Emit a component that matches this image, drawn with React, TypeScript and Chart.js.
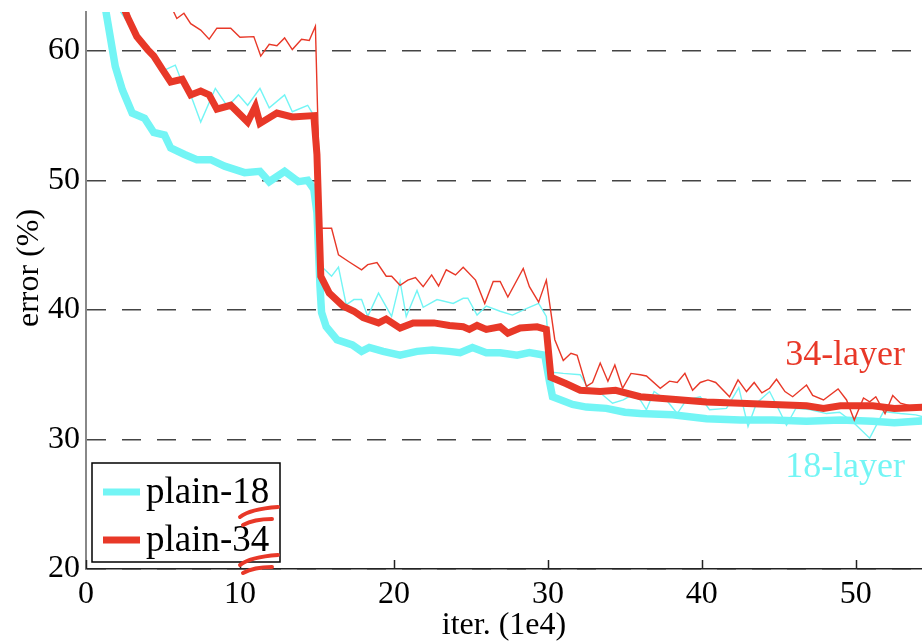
import React, { useEffect, useRef } from 'react';
import { Chart, registerables } from 'chart.js';

Chart.register(...registerables);

// ---- tick values ----
const xTickValues = [0, 10, 20, 30, 40, 50];
const yTickValues = [20, 30, 40, 50, 60];

// ---- plain-18, bold curve (validation) ----
const val18X = [1.0, 1.3, 1.9, 2.36, 3.0, 3.8, 4.4, 5.1, 5.5, 6.4, 7.2, 8.1, 9.0, 10.3, 11.3, 11.9, 12.9, 13.8, 14.4, 14.8, 15.0, 15.2, 15.3, 15.6, 16.3, 17.3, 17.9, 18.4, 19.3, 20.4, 21.5, 22.5, 23.6, 24.3, 25.1, 26.0, 26.9, 28.0, 28.8, 29.8, 30.1, 30.3, 31.6, 32.5, 33.8, 35.0, 36.0, 38.1, 40.3, 42.5, 44.6, 46.8, 49.0, 51.1, 52.5, 54.5];
const val18Y = [66.0, 63.0, 58.8, 57.0, 55.2, 54.8, 53.7, 53.5, 52.5, 52.0, 51.6, 51.6, 51.1, 50.6, 50.7, 49.9, 50.7, 49.9, 50.0, 49.3, 47.5, 41.8, 39.8, 38.7, 37.7, 37.3, 36.8, 37.1, 36.8, 36.5, 36.8, 36.9, 36.8, 36.7, 37.1, 36.7, 36.7, 36.5, 36.7, 36.5, 34.5, 33.3, 32.7, 32.5, 32.4, 32.1, 32.0, 31.9, 31.6, 31.5, 31.5, 31.4, 31.5, 31.4, 31.3, 31.45];

// ---- plain-34, bold curve (validation) ----
const val34X = [2.0, 2.4, 2.7, 3.3, 4.0, 4.4, 5.0, 5.5, 6.25, 6.8, 7.45, 8.0, 8.5, 9.4, 10.5, 11.0, 11.3, 12.4, 13.4, 14.8, 15.0, 15.25, 15.8, 16.7, 17.4, 18.0, 19.0, 19.5, 20.4, 21.25, 22.6, 23.6, 24.5, 24.9, 25.4, 26.0, 26.9, 27.4, 28.2, 29.3, 29.9, 30.2, 31.2, 32.1, 33.4, 34.4, 36.0, 38.1, 40.3, 42.5, 44.6, 46.8, 47.9, 49.0, 51.1, 52.5, 54.5];
const val34Y = [66.0, 63.5, 62.6, 61.1, 60.1, 59.6, 58.5, 57.6, 57.8, 56.6, 56.9, 56.6, 55.5, 55.8, 54.5, 55.7, 54.4, 55.2, 54.9, 55.0, 52.0, 42.6, 41.3, 40.3, 39.9, 39.4, 39.0, 39.3, 38.6, 39.0, 39.0, 38.8, 38.7, 38.5, 38.8, 38.5, 38.7, 38.2, 38.6, 38.7, 38.5, 34.8, 34.3, 33.8, 33.7, 33.8, 33.3, 33.1, 32.9, 32.8, 32.7, 32.6, 32.4, 32.6, 32.6, 32.4, 32.5];

// ---- plain-18, thin curve (training) ----
const train18X = [1.5, 2.25, 2.6, 3.3, 4.0, 5.06, 5.8, 6.36, 6.8, 7.45, 8.4, 9.2, 9.9, 10.5, 11.3, 11.9, 12.9, 13.4, 14.4, 14.7, 15.0, 15.35, 15.95, 16.4, 16.9, 17.4, 17.9, 18.3, 19.0, 19.85, 20.4, 20.8, 21.5, 21.9, 22.8, 23.85, 24.5, 24.8, 25.4, 26.0, 26.9, 27.7, 28.6, 29.4, 29.9, 30.2, 31.0, 32.1, 32.6, 33.4, 34.2, 34.9, 35.4, 36.0, 36.4, 36.9, 37.7, 38.4, 39.0, 39.9, 40.5, 41.6, 42.4, 43.0, 43.55, 44.4, 45.0, 45.5, 46.1, 47.0, 48.1, 48.95, 49.9, 50.9, 51.8, 52.9, 53.9, 54.5];
const train18Y = [70.0, 63.0, 62.4, 61.1, 59.9, 58.5, 58.9, 57.2, 56.6, 54.5, 57.1, 55.7, 56.6, 55.8, 57.1, 55.6, 56.6, 55.3, 55.8, 55.2, 50.0, 43.3, 42.6, 43.3, 40.4, 40.8, 40.8, 39.5, 41.3, 39.5, 42.2, 39.5, 41.5, 40.2, 40.8, 40.5, 40.9, 40.9, 39.6, 40.3, 39.9, 39.6, 40.1, 40.5, 39.5, 35.2, 35.1, 35.0, 34.0, 33.6, 32.8, 33.05, 33.4, 33.05, 32.3, 33.7, 33.05, 32.0, 33.05, 33.3, 32.3, 32.4, 34.0, 31.0, 32.8, 33.7, 32.3, 31.1, 32.4, 32.3, 32.0, 32.1, 31.25, 30.1, 32.15, 32.0, 31.9, 31.7];

// ---- plain-34, thin curve (training) ----
const train34X = [5.5, 5.7, 5.9, 6.36, 6.8, 7.45, 8.0, 8.5, 9.4, 10.0, 10.9, 11.35, 11.9, 12.4, 12.9, 13.4, 14.0, 14.5, 14.9, 15.24, 15.95, 16.4, 17.1, 17.9, 18.3, 18.9, 19.5, 19.85, 20.4, 20.9, 21.4, 21.9, 22.45, 22.9, 23.4, 24.0, 24.5, 25.3, 25.9, 26.45, 26.9, 27.4, 28.4, 28.8, 29.4, 29.9, 30.45, 31.0, 31.5, 31.9, 32.5, 32.9, 33.4, 33.9, 34.35, 34.85, 35.4, 36.0, 36.4, 37.3, 37.9, 38.4, 38.9, 39.4, 39.9, 40.4, 40.9, 41.8, 42.35, 42.9, 43.4, 43.9, 44.4, 44.85, 45.4, 45.9, 46.8, 47.2, 47.9, 48.85, 49.4, 49.9, 50.5, 50.9, 51.3, 51.9, 52.4, 52.9, 53.5, 54.5];
const train34Y = [64.0, 63.0, 62.5, 62.9, 62.1, 61.6, 60.9, 61.75, 61.75, 61.05, 61.1, 59.6, 60.5, 60.4, 61.0, 60.1, 60.9, 60.8, 61.9, 46.3, 46.3, 44.25, 43.7, 43.1, 43.5, 43.65, 42.6, 42.6, 41.9, 42.3, 42.5, 41.8, 42.7, 41.85, 43.1, 42.7, 43.3, 42.3, 40.5, 42.2, 42.2, 41.0, 43.2, 41.8, 40.6, 42.3, 37.7, 36.1, 36.65, 36.5, 34.1, 34.4, 35.9, 34.5, 35.75, 33.95, 35.1, 35.0, 34.9, 33.95, 34.5, 34.4, 35.1, 33.8, 34.4, 34.6, 34.4, 33.3, 34.6, 33.7, 34.4, 33.6, 33.95, 34.65, 33.7, 33.3, 34.2, 33.4, 33.05, 33.9, 33.05, 31.5, 33.2, 32.9, 33.3, 32.0, 33.4, 32.8, 32.6, 32.5];

const legendLabels = ['plain-18', 'plain-34'];
const curveLabels = ['18-layer', '34-layer'];

const CYAN = 'rgb(115,245,245)';
const RED = 'rgb(232,56,40)';
const FONT = '"Liberation Serif", "Times New Roman", Times, serif';

const toPoints = (xs: number[], ys: number[]) => xs.map((x, i) => ({ x, y: ys[i] }));

export default function App() {
  const ref = useRef<HTMLCanvasElement>(null);

  useEffect(() => {
    document.body.style.margin = '0';
    const canvas = ref.current!;

    const overlay = {
      id: 'overlay',
      afterDraw(chart: any) {
        const ctx = chart.ctx as CanvasRenderingContext2D;
        const xs = chart.scales.x;
        const ys = chart.scales.y;
        const area = chart.chartArea;
        ctx.save();

        // inward tick marks on x axis
        ctx.strokeStyle = '#222';
        ctx.lineWidth = 1.5;
        xTickValues.forEach((v) => {
          const px = Math.round(xs.getPixelForValue(v)) + 0.5;
          ctx.beginPath();
          ctx.moveTo(px, area.bottom);
          ctx.lineTo(px, area.bottom - 9);
          ctx.stroke();
        });

        // y axis title
        ctx.fillStyle = '#000';
        ctx.font = `32px ${FONT}`;
        ctx.textAlign = 'center';
        ctx.textBaseline = 'middle';
        ctx.save();
        ctx.translate(30, 268);
        ctx.rotate(-Math.PI / 2);
        ctx.fillText('error (%)', 0, 0);
        ctx.restore();

        // curve labels
        ctx.textAlign = 'right';
        ctx.textBaseline = 'alphabetic';
        ctx.font = `36px ${FONT}`;
        ctx.fillStyle = RED;
        ctx.fillText(curveLabels[1], xs.getPixelForValue(53.2), ys.getPixelForValue(35.75));
        ctx.fillStyle = CYAN;
        ctx.fillText(curveLabels[0], xs.getPixelForValue(53.2), ys.getPixelForValue(27.1));

        // legend box
        const lx = area.left + 6;
        const ly = 463;
        const lw = 188;
        const lh = 99;
        ctx.fillStyle = '#fff';
        ctx.fillRect(lx, ly, lw, lh);
        ctx.strokeStyle = '#000';
        ctx.lineWidth = 1.5;
        ctx.strokeRect(lx, ly, lw, lh);
        const entries = [
          { label: legendLabels[0], color: CYAN, y: ly + 29 },
          { label: legendLabels[1], color: RED, y: ly + 77 },
        ];
        ctx.textAlign = 'left';
        ctx.textBaseline = 'middle';
        ctx.font = `37px ${FONT}`;
        entries.forEach((e) => {
          ctx.strokeStyle = e.color;
          ctx.lineWidth = 7;
          ctx.beginPath();
          ctx.moveTo(lx + 11, e.y);
          ctx.lineTo(lx + 48, e.y);
          ctx.stroke();
          ctx.fillStyle = '#000';
          ctx.fillText(e.label, lx + 54, e.y + 1);
        });

        // red hand-drawn scribbles
        ctx.strokeStyle = RED;
        ctx.lineWidth = 4;
        ctx.lineCap = 'round';
        const scribble = (sx: number, sy: number) => {
          ctx.beginPath();
          ctx.moveTo(sx, sy + 10);
          ctx.quadraticCurveTo(sx + 10, sy + 2, sx + 38, sy);
          ctx.stroke();
          ctx.beginPath();
          ctx.moveTo(sx + 3, sy + 18);
          ctx.quadraticCurveTo(sx + 14, sy + 12, sx + 32, sy + 12);
          ctx.stroke();
        };
        scribble(lx + 148, ly + 44);
        scribble(lx + 148, ly + 92);

        ctx.restore();
      },
    };

    const common = { pointRadius: 0, fill: false, tension: 0, clip: 0 as any };

    const chart = new Chart(canvas, {
      type: 'line',
      data: {
        datasets: [
          { label: 'plain-34 train', data: toPoints(train34X, train34Y), borderColor: RED, borderWidth: 1.4, ...common },
          { label: 'plain-34', data: toPoints(val34X, val34Y), borderColor: RED, borderWidth: 7, ...common },
          { label: 'plain-18 train', data: toPoints(train18X, train18Y), borderColor: CYAN, borderWidth: 1.4, ...common },
          { label: 'plain-18', data: toPoints(val18X, val18Y), borderColor: CYAN, borderWidth: 7.5, ...common },
        ],
      },
      options: {
        animation: false,
        responsive: false,
        maintainAspectRatio: false,
        layout: { padding: { top: 12, left: 0, right: 0, bottom: 0 } },
        plugins: { legend: { display: false }, tooltip: { enabled: false }, title: { display: false } },
        scales: {
          x: {
            type: 'linear',
            min: 0,
            max: 54.3,
            afterBuildTicks: (s: any) => {
              s.ticks = xTickValues.map((v) => ({ value: v }));
            },
            afterFit: (s: any) => {
              s.height = 73;
              s.paddingLeft = 0;
              s.paddingRight = 0;
            },
            grid: { display: true, drawOnChartArea: false, drawTicks: false },
            border: { display: true, color: '#222', width: 1.5 },
            ticks: {
              font: { family: FONT, size: 32 },
              color: '#000',
              padding: 6,
              maxRotation: 0,
              autoSkip: false,
            },
            title: {
              display: true,
              text: 'iter. (1e4)',
              font: { family: FONT, size: 32, lineHeight: 1 },
              color: '#000',
              padding: { top: 0, bottom: 0 },
            },
          },
          y: {
            type: 'linear',
            min: 20,
            max: 63,
            afterBuildTicks: (s: any) => {
              s.ticks = yTickValues.map((v) => ({ value: v }));
            },
            afterFit: (s: any) => {
              s.width = 86;
              s.paddingTop = 0;
              s.paddingBottom = 0;
            },
            grid: { display: true, drawTicks: false, color: '#444', lineWidth: 1.5 },
            border: { display: true, color: '#888', width: 2, dash: [19, 16] },
            ticks: {
              font: { family: FONT, size: 32 },
              color: '#000',
              padding: 6,
            },
          },
        },
      },
      plugins: [overlay],
    });

    return () => chart.destroy();
  }, []);

  return <canvas ref={ref} width={922} height={642} style={{ display: 'block' }} />;
}
